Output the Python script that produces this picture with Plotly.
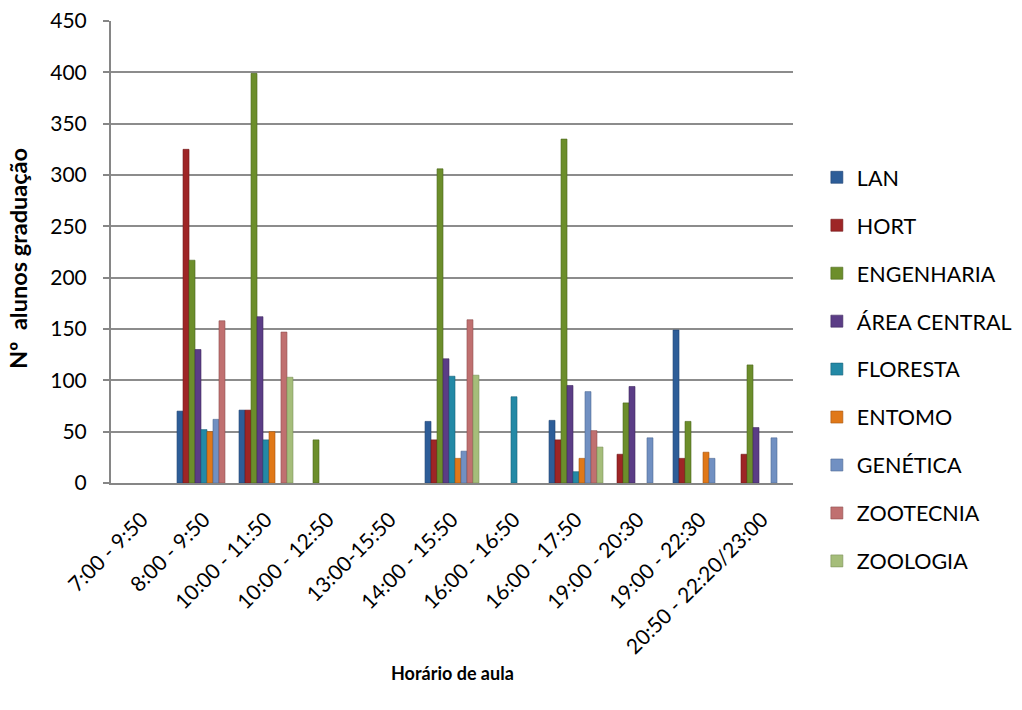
import plotly.graph_objects as go

# Class time slots (x categories)
horarios = ["7:00 - 9:50", "8:00 - 9:50", "10:00 - 11:50", "10:00 - 12:50",
            "13:00-15:50", "14:00 - 15:50", "16:00 - 16:50", "16:00 - 17:50",
            "19:00 - 20:30", "19:00 - 22:30", "20:50 - 22:20/23:00"]

# Undergraduate students per department and time slot (None = no class)
lan          = [None, 70, 71, None, None, 60, None, 61, None, 149, None]
hort         = [None, 325, 71, None, None, 42, None, 42, 28, 24, 28]
engenharia   = [None, 217, 399, 42, None, 306, None, 335, 78, 60, 115]
area_central = [None, 130, 162, None, None, 121, None, 95, 94, None, 54]
floresta     = [None, 52, 42, None, None, 104, 84, 11, None, None, None]
entomo       = [None, 50, 50, None, None, 24, None, 24, None, 30, None]
genetica     = [None, 62, None, None, None, 31, None, 89, 44, 24, 44]
zootecnia    = [None, 158, 147, None, None, 159, None, 51, None, None, None]
zoologia     = [None, None, 103, None, None, 105, None, 35, None, None, None]

series = [
    ("LAN", lan, "#2D5D98", "#1F4272"),
    ("HORT", hort, "#9E2526", "#701819"),
    ("ENGENHARIA", engenharia, "#6C8E2B", "#4C661D"),
    ("ÁREA CENTRAL", area_central, "#5B3D86", "#3F2A60"),
    ("FLORESTA", floresta, "#2389A6", "#186178"),
    ("ENTOMO", entomo, "#E07818", "#A65610"),
    ("GENÉTICA", genetica, "#7190C2", "#4F6A94"),
    ("ZOOTECNIA", zootecnia, "#C07070", "#8E4F4F"),
    ("ZOOLOGIA", zoologia, "#A5BD7A", "#7A8F57"),
]

fig = go.Figure()
for name, vals, color, edge in series:
    fig.add_trace(go.Bar(
        name=name, x=horarios, y=vals,
        marker=dict(color=color, line=dict(color=edge, width=0.6)),
        legendgroup=name,
    ))

font_family = "Lato, Carlito, Calibri, sans-serif"

fig.update_layout(
    width=1022, height=710,
    margin=dict(l=111, r=229, t=21, b=227, autoexpand=False),
    paper_bgcolor="white", plot_bgcolor="white",
    barmode="group", bargap=0.13, bargroupgap=0,
    font=dict(family=font_family, size=21, color="black"),
    showlegend=True,
    legend=dict(
        x=1.035, xanchor="left", y=0.706, yanchor="top",
        font=dict(size=21.5), tracegroupgap=17,
        itemwidth=30, bgcolor="rgba(0,0,0,0)",
    ),
    xaxis=dict(
        tickangle=-45, showline=True, linecolor="#868686", linewidth=2,
        ticks="", showgrid=False, tickfont=dict(size=21),
        automargin=False, ticklabelstandoff=14,
    ),
    yaxis=dict(
        range=[0, 450], dtick=50, showgrid=True, gridcolor="#8C8C8C", gridwidth=2,
        showline=True, linecolor="#868686", linewidth=2,
        ticks="outside", ticklen=6, tickcolor="#868686", tickwidth=2,
        tickfont=dict(size=21), zeroline=False,
        automargin=False, ticklabelstandoff=12,
    ),
    annotations=[
        dict(text="<b>Horário de aula</b>", xref="paper", yref="paper",
             x=0.5, y=-(673 - 483) / 462, xanchor="center", yanchor="middle",
             showarrow=False, font=dict(size=18)),
        dict(text="<b>Nº  alunos graduação</b>", xref="paper", yref="paper",
             x=-(111 - 18) / 682, y=1 - (259 - 21) / 462, xanchor="center",
             yanchor="middle", textangle=-90, showarrow=False,
             font=dict(size=23.5)),
    ],
)

fig.write_html("out.html")
